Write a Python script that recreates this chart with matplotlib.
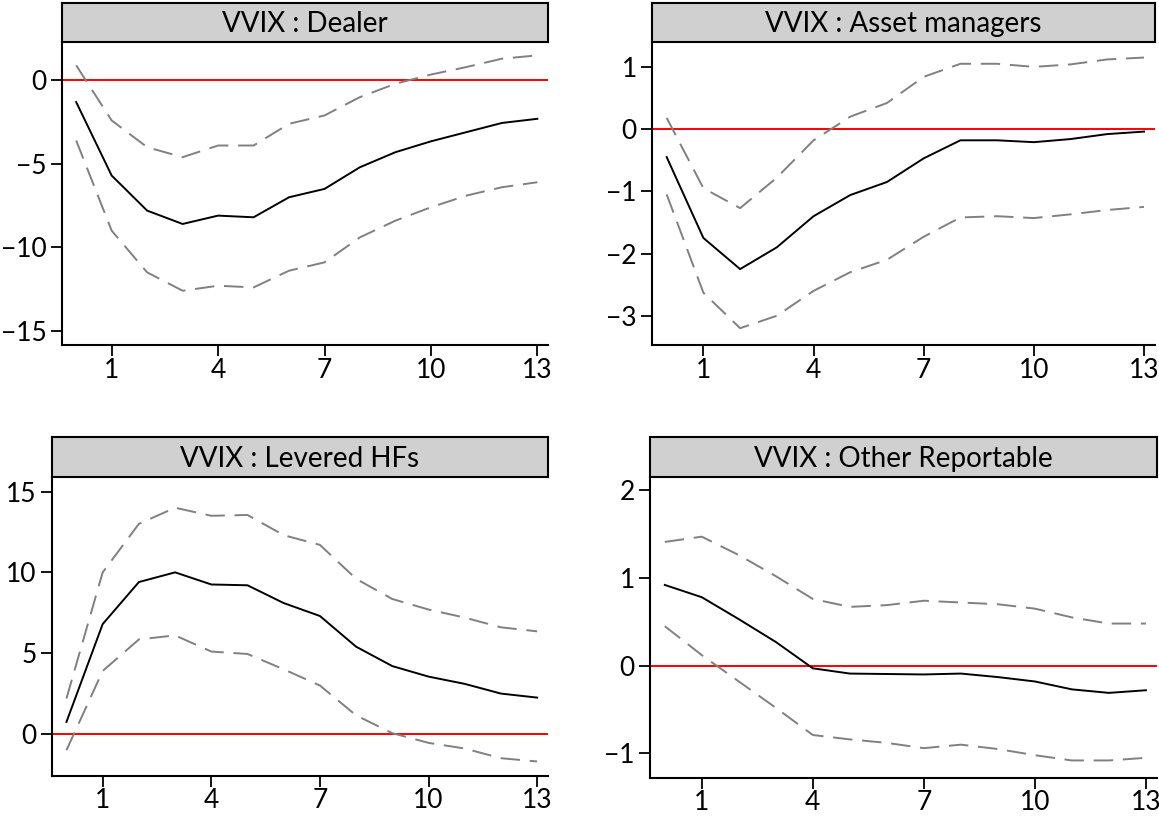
import matplotlib
matplotlib.use("Agg")
import matplotlib.pyplot as plt
import numpy as np

plt.rcParams['font.family'] = ['Lato', 'DejaVu Sans']

steps = np.arange(14)

titles = ["VVIX : Dealer", "VVIX : Asset managers",
          "VVIX : Levered HFs", "VVIX : Other Reportable"]

# impulse responses (middle line) and confidence bands
dealer_irf = [-1.3, -5.7, -7.8, -8.6, -8.1, -8.2, -7.0, -6.5, -5.2, -4.3, -3.65, -3.1, -2.55, -2.3]
dealer_hi = [0.9, -2.4, -4.0, -4.6, -3.9, -3.9, -2.6, -2.1, -1.0, -0.2, 0.35, 0.8, 1.3, 1.5]
dealer_lo = [-3.6, -9.0, -11.5, -12.6, -12.3, -12.4, -11.4, -10.9, -9.4, -8.4, -7.6, -6.9, -6.4, -6.1]

asset_irf = [-0.45, -1.75, -2.25, -1.9, -1.4, -1.06, -0.85, -0.47, -0.18, -0.18, -0.21, -0.16, -0.08, -0.04]
asset_hi = [0.18, -0.95, -1.27, -0.78, -0.18, 0.2, 0.42, 0.84, 1.05, 1.05, 1.0, 1.04, 1.12, 1.15]
asset_lo = [-1.05, -2.63, -3.2, -3.0, -2.6, -2.3, -2.1, -1.73, -1.42, -1.4, -1.43, -1.37, -1.3, -1.25]

hf_irf = [0.75, 6.8, 9.4, 10.0, 9.25, 9.2, 8.1, 7.3, 5.4, 4.2, 3.55, 3.1, 2.5, 2.25]
hf_hi = [2.2, 10.0, 13.0, 14.0, 13.5, 13.55, 12.3, 11.7, 9.6, 8.35, 7.7, 7.2, 6.6, 6.35]
hf_lo = [-1.0, 3.9, 5.85, 6.1, 5.1, 4.95, 4.0, 3.0, 1.15, 0.05, -0.55, -0.9, -1.5, -1.7]

other_irf = [0.92, 0.78, 0.53, 0.27, -0.03, -0.09, -0.095, -0.1, -0.09, -0.13, -0.18, -0.27, -0.31, -0.28]
other_hi = [1.41, 1.47, 1.26, 1.02, 0.76, 0.67, 0.69, 0.74, 0.72, 0.70, 0.65, 0.55, 0.48, 0.48]
other_lo = [0.45, 0.12, -0.18, -0.48, -0.79, -0.84, -0.88, -0.94, -0.90, -0.95, -1.02, -1.08, -1.08, -1.05]

x_ticks = [1, 4, 7, 10, 13]
y_ticks = [[0, -5, -10, -15], [1, 0, -1, -2, -3], [15, 10, 5, 0], [2, 1, 0, -1]]
y_lims = [(-15.85, 2.3), (-3.47, 1.4), (-2.6, 15.9), (-1.28, 2.15)]

series = [(dealer_irf, dealer_hi, dealer_lo), (asset_irf, asset_hi, asset_lo),
          (hf_irf, hf_hi, hf_lo), (other_irf, other_hi, other_lo)]

W, H = 1159, 818
# pixel boxes: left, right, plot top, plot bottom, title top
boxes = [(62, 548, 42, 345, 3), (652, 1155, 42, 345, 3),
         (52, 548, 477, 776, 437), (650, 1157, 477, 778, 437)]

fig = plt.figure(figsize=(W / 100, H / 100), dpi=100)

for i in range(4):
    l, r, t, b, tt = boxes[i]
    ax = fig.add_axes([l / W, 1 - b / H, (r - l) / W, (b - t) / H])
    irf, hi, lo = series[i]
    ax.axhline(0, color='red', lw=1.4, zorder=1)
    ax.plot(steps, hi, color='#808080', lw=1.4, dashes=(10, 5))
    ax.plot(steps, lo, color='#808080', lw=1.4, dashes=(10, 5))
    ax.plot(steps, irf, color='black', lw=1.4)
    ax.set_xlim(-0.4, 13.3)
    ax.set_ylim(*y_lims[i])
    ax.set_xticks(x_ticks)
    ax.set_yticks(y_ticks[i])
    ax.set_yticklabels([str(v).replace('-', '\u2212') for v in y_ticks[i]])
    ax.spines['top'].set_visible(False)
    ax.spines['right'].set_visible(False)
    ax.spines['left'].set_linewidth(1.5)
    ax.spines['bottom'].set_linewidth(1.5)
    ax.tick_params(length=8, width=1.3, labelsize=19, pad=3)
    ax.tick_params(axis='x', pad=1)

    # grey title strip
    tax = fig.add_axes([l / W, 1 - t / H, (r - l) / W, (t - tt) / H])
    tax.set_facecolor('#d0d0d0')
    tax.set_xticks([])
    tax.set_yticks([])
    for s in tax.spines.values():
        s.set_linewidth(1.5)
    tax.text(0.5, 0.45, titles[i], ha='center', va='center', fontsize=20,
             transform=tax.transAxes)

fig.savefig("out.png", dpi=100)
